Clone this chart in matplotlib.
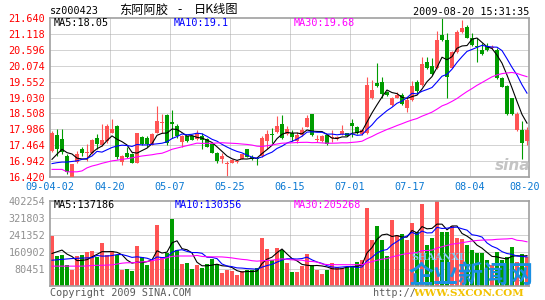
import numpy as np
import pandas as pd
import matplotlib
matplotlib.use('Agg')
import matplotlib.pyplot as plt

# daily OHLC, 2009-04-02 .. 2009-08-20
opens = [17.28, 17.79, 17.66, 17.11, 16.42, 16.91, 17.33, 17.20, 17.20, 17.71,
         17.47, 17.61, 17.86, 18.08, 16.90, 17.22, 17.19, 16.89, 17.74, 17.71,
         17.47, 17.88, 18.18, 18.45, 18.21, 18.10, 17.57, 17.75, 17.75, 17.66,
         17.75, 17.66, 17.50, 17.22, 17.00, 16.84, 16.89, 16.91, 17.02, 17.33,
         17.09, 17.06, 17.11, 17.61, 17.82, 17.90, 18.15, 17.82, 17.86, 17.60,
         17.80, 18.07, 18.48, 17.62, 17.60, 17.80, 17.69, 17.67, 17.82, 17.85,
         18.18, 18.07, 17.82, 17.85, 19.00, 19.49, 19.55, 19.22, 18.78, 19.02,
         19.11, 18.67, 18.95, 19.55, 19.44, 20.20, 20.07, 19.99, 21.08, 20.92,
         20.01, 20.51, 21.17, 21.35, 20.99, 20.73, 20.59, 20.73, 20.64, 20.59,
         19.66, 19.41, 19.00, 17.96, 17.96, 17.60]
closes = [17.88, 17.33, 17.24, 16.59, 16.84, 17.19, 17.20, 17.22, 17.63, 17.50,
          17.63, 18.10, 17.99, 17.08, 17.10, 17.09, 16.89, 17.86, 17.50, 17.50,
          17.82, 18.26, 18.19, 17.55, 18.15, 17.75, 17.75, 17.61, 17.64, 17.86,
          17.63, 17.42, 17.22, 16.93, 17.11, 16.87, 16.97, 16.95, 17.17, 17.09,
          17.00, 17.00, 17.69, 17.82, 17.79, 18.10, 17.71, 17.99, 17.72, 17.80,
          17.96, 18.35, 17.80, 17.67, 17.78, 17.49, 17.74, 17.74, 17.93, 17.78,
          18.09, 17.85, 17.96, 19.44, 19.28, 19.42, 19.13, 19.11, 19.02, 19.11,
          18.81, 18.95, 19.41, 19.25, 20.12, 20.01, 19.79, 20.92, 20.92, 19.71,
          20.51, 21.17, 21.30, 20.99, 20.75, 20.70, 20.45, 20.59, 20.70, 19.66,
          19.39, 18.49, 18.48, 18.48, 17.53, 17.96]
highs = [17.93, 17.99, 17.99, 17.17, 16.86, 17.28, 17.42, 17.50, 17.66, 17.82,
         18.15, 18.15, 18.32, 18.12, 17.13, 17.41, 17.22, 17.88, 17.77, 17.75,
         17.86, 18.76, 18.48, 18.48, 18.63, 18.15, 17.79, 17.78, 17.77, 17.97,
         17.88, 17.70, 17.53, 17.24, 17.22, 16.95, 17.00, 16.98, 17.19, 17.35,
         17.13, 17.08, 17.77, 17.97, 18.04, 18.41, 18.45, 18.10, 17.96, 17.91,
         18.07, 18.45, 18.50, 17.80, 17.80, 17.83, 17.96, 17.78, 18.13, 17.88,
         18.32, 18.10, 18.00, 19.71, 19.60, 20.15, 19.71, 19.25, 19.06, 19.20,
         19.17, 19.06, 19.57, 19.60, 20.37, 20.37, 20.34, 21.21, 21.63, 21.14,
         20.56, 21.25, 21.57, 21.41, 21.14, 20.97, 20.81, 20.81, 20.75, 20.64,
         19.70, 19.44, 19.02, 18.56, 18.26, 18.05]
lows = [17.24, 17.11, 17.17, 16.51, 16.38, 16.89, 17.11, 16.95, 17.18, 17.33,
        17.44, 17.55, 17.85, 17.00, 16.80, 17.03, 16.87, 16.87, 17.46, 17.39,
        17.46, 17.86, 17.88, 17.46, 17.71, 17.71, 17.39, 17.58, 17.62, 17.64,
        17.35, 17.40, 17.20, 16.89, 16.87, 16.45, 16.87, 16.89, 17.00, 17.07,
        16.97, 16.80, 17.09, 17.33, 17.53, 17.88, 17.66, 17.79, 17.60, 17.53,
        17.78, 18.05, 17.78, 17.58, 17.58, 17.47, 17.58, 17.64, 17.80, 17.75,
        17.74, 17.82, 17.80, 17.83, 18.98, 19.38, 19.00, 19.08, 18.76, 19.00,
        18.78, 18.56, 18.90, 19.15, 19.42, 19.98, 19.76, 19.96, 20.88, 19.00,
        19.99, 20.49, 21.15, 20.97, 20.73, 20.21, 20.42, 20.56, 20.62, 19.64,
        19.36, 18.46, 18.45, 17.94, 17.01, 17.47]
volumes = [237000, 141000, 145000, 99000, 75000, 141000, 146000, 162000, 165000, 135000,
           205000, 146000, 165000, 146000, 78000, 80000, 72000, 189000, 135000, 99000,
           122000, 289000, 135000, 157000, 318000, 170000, 103000, 110000, 80000, 99000,
           87000, 102000, 126000, 102000, 62000, 78000, 70000, 51000, 70000, 75000,
           75000, 83000, 227000, 175000, 122000, 181000, 170000, 110000, 67000, 67000,
           97000, 150000, 98000, 74000, 55000, 74000, 108000, 90000, 84000, 90000,
           90000, 112000, 122000, 369000, 217000, 284000, 217000, 141000, 312000, 241000,
           246000, 217000, 298000, 257000, 388000, 193000, 227000, 400000, 255000, 255000,
           284000, 227000, 222000, 193000, 170000, 155000, 155000, 122000, 98000, 160000,
           125000, 136000, 184000, 112000, 150000, 136000]

# moving-average values at the start of the window (they depend on earlier days)
ma5_head = [17.00, 17.17, 17.33, 17.22]
ma10_head = [16.86, 16.89, 16.91, 16.91, 16.93, 16.95, 17.00, 17.03, 17.11]
ma30_head = [16.67, 16.67, 16.67, 16.59, 16.59, 16.59, 16.62, 16.72, 16.78, 16.82,
             16.87, 16.91, 16.95, 16.97, 17.00, 17.02, 17.05, 17.08, 17.11, 17.13,
             17.15, 17.18, 17.20, 17.26, 17.33, 17.37, 17.41, 17.45, 17.49]
vma5_head = [154000, 162000, 170000, 151000]
vma10_head = [122000, 124000, 126000, 128000, 130000, 131000, 132000, 133000, 134000]
vma30_head = [94000, 94000, 94000, 94000, 94000, 94000, 94000, 95000, 97000, 98000,
              98000, 99000, 100000, 104000, 108000, 110000, 110000, 112000, 114000, 116000,
              120000, 124000, 128000, 134000, 140000, 142000, 142000, 142000, 142000]

price_ticks = [16.420, 16.942, 17.464, 17.986, 18.508, 19.030, 19.552, 20.074, 20.596, 21.118, 21.640]
vol_ticks = [80451, 160902, 241352, 321803, 402254]
date_labels = ['09-04-02', '04-20', '05-07', '05-25', '06-15', '07-01', '07-17', '08-04', '08-20']

RED = '#ff5454'
GREEN = '#009c00'
GRID = '#a8a8a8'
W, H = 545, 300


def moving_average(values, n, head):
    ma = pd.Series(values, dtype=float).rolling(n).mean().to_numpy()
    ma[:n - 1] = head
    return ma


plt.rcParams['font.family'] = ['DejaVu Sans Mono']
plt.rcParams['font.size'] = 7.3

fig = plt.figure(figsize=(5.45, 3.0), dpi=100)


def box(left, top, right, bottom):
    return fig.add_axes([left / W, 1 - bottom / H, (right - left) / W, (bottom - top) / H])


def ftext(px, py, s, **kw):
    fig.text(px / W, 1 - py / H, s, va='center', **kw)


ax = box(50, 18, 529, 177)
axv = box(50, 201, 529, 286)

o = np.array(opens)
c = np.array(closes)
x = np.arange(len(o))
colors = np.where(c >= o, RED, GREEN)

for a in (ax, axv):
    a.set_xlim(-0.4, 95.4)
    for s in a.spines.values():
        s.set_color('#a0a0a0')
        s.set_linewidth(1.2)
    a.set_xticks([])
    a.tick_params(length=0, pad=3.5)
    for k in range(1, 8):
        a.axvline(12 * k - 0.4, color=GRID, lw=0.72, ls=(0, (1, 1)), zorder=0)

# price panel
for t in price_ticks[1:-1]:
    ax.axhline(t, color=GRID, lw=0.72, ls=(0, (1, 1)), zorder=0)
ax.vlines(x, lows, highs, colors=colors, lw=0.8, zorder=2)
ax.bar(x, np.maximum(np.abs(c - o), 0.03), 0.8, bottom=np.minimum(o, c),
       color=colors, lw=0, zorder=3)
ax.plot(x, moving_average(closes, 5, ma5_head), color='black', lw=0.8, zorder=4)
ax.plot(x, moving_average(closes, 10, ma10_head), color='#0000ff', lw=0.8, zorder=4)
ax.plot(x, moving_average(closes, 30, ma30_head), color='#ff00ff', lw=0.8, zorder=4)
ax.set_ylim(price_ticks[0], price_ticks[-1])
ax.set_yticks(price_ticks)
ax.set_yticklabels([f'{t:.3f}' for t in price_ticks], color='#ff0000')

for k, lab in enumerate(date_labels):
    last = k == len(date_labels) - 1
    ax.annotate(lab, xy=(12 * k - 0.4, 0), xycoords=ax.get_xaxis_transform(),
                xytext=(7 if last else 0, -7.2), textcoords='offset points',
                ha='right' if last else 'center', va='center', color='#0a78d2',
                annotation_clip=False)

# volume panel
for t in vol_ticks[:-1]:
    axv.axhline(t, color=GRID, lw=0.72, ls=(0, (1, 1)), zorder=0)
axv.bar(x, volumes, 0.8, color=colors, lw=0, zorder=2)
axv.plot(x, moving_average(volumes, 5, vma5_head), color='black', lw=0.8, zorder=4)
axv.plot(x, moving_average(volumes, 10, vma10_head), color='#0000ff', lw=0.8, zorder=4)
axv.plot(x, moving_average(volumes, 30, vma30_head), color='#ff00ff', lw=0.8, zorder=4)
axv.set_ylim(0, vol_ticks[-1])
axv.set_yticks(vol_ticks)
axv.set_yticklabels([str(t) for t in vol_ticks], color='#909090')

# header and labels
cjk = ['Noto Sans CJK SC', 'DejaVu Sans']
ftext(50, 11, 'sz000423')
ftext(119, 10, '东阿阿胶', family=cjk, fontsize=8.8)
ftext(177, 10, '-', family=cjk, fontsize=8.8)
ftext(194, 10, '日K线图', family=cjk, fontsize=8.8)
ftext(529, 12, '2009-08-20 15:31:35', ha='right')

ftext(54, 23.5, 'MA5:18.05', color='black')
ftext(174, 23.5, 'MA10:19.1', color='#0000ff')
ftext(294, 23.5, 'MA30:19.68', color='#ff00ff')
ftext(54, 205.5, 'MA5:137186', color='black')
ftext(175, 205.5, 'MA10:130356', color='#0000ff')
ftext(294, 205.5, 'MA30:205268', color='#ff00ff')
ftext(50, 293, 'Copyright 2009 SINA.COM', color='#5a5a5a')

# watermarks
ftext(495, 165, 'sina', color='#c4c4c4', fontsize=11, style='italic', weight='bold',
      family='DejaVu Sans')
ftext(411, 258, 'SHAANXI', color='#7cc8f0', fontsize=7, weight='bold', family='DejaVu Serif')
ftext(409, 276, '企业新闻网', family=cjk, fontsize=18, weight='bold', color='#1a8fe3')
ftext(373, 293, 'http://', color='#606060')
ftext(413, 294, 'WWW.SXCON.COM', color='#f2c200', weight='bold', fontsize=7.5,
      family='DejaVu Serif')

fig.savefig('out.png', dpi=100)
